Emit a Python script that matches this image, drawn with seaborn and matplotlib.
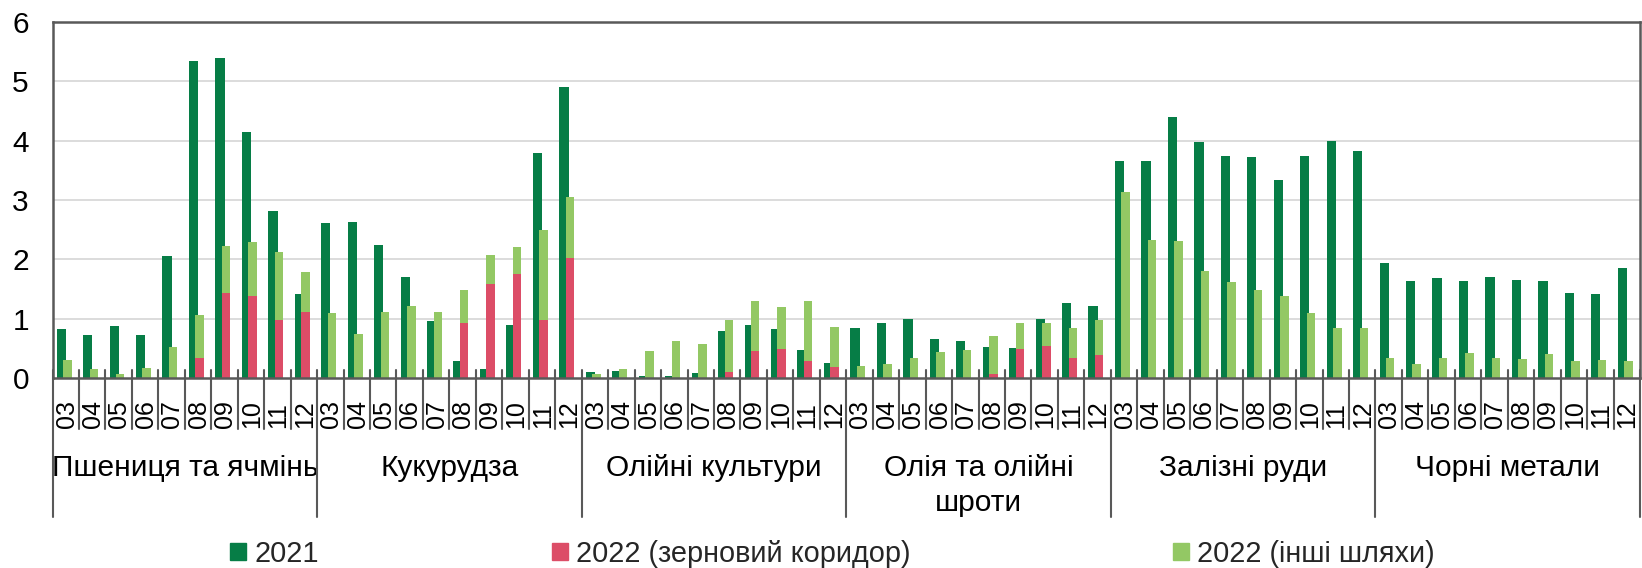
import numpy as np
import pandas as pd
import matplotlib
matplotlib.use("Agg")
import matplotlib.pyplot as plt
from matplotlib.patches import Patch
import seaborn as sns

# ---------------- data ----------------
months = ["03", "04", "05", "06", "07", "08", "09", "10", "11", "12"]
groups = ["Пшениця та ячмінь", "Кукурудза", "Олійні культури",
          "Олія та олійні\nшроти", "Залізні руди", "Чорні метали"]
series_names = ["2021", "2022 (зерновий коридор)", "2022 (інші шляхи)"]

v2021 = [0.82, 0.73, 0.88, 0.72, 2.06, 5.35, 5.39, 4.15, 2.81, 1.42,
         2.62, 2.63, 2.25, 1.70, 0.96, 0.29, 0.15, 0.89, 3.79, 4.90,
         0.10, 0.11, 0.03, 0.04, 0.08, 0.79, 0.90, 0.82, 0.48, 0.25,
         0.84, 0.93, 1.00, 0.65, 0.62, 0.52, 0.50, 0.99, 1.26, 1.22,
         3.66, 3.65, 4.40, 3.97, 3.75, 3.72, 3.33, 3.74, 3.99, 3.83,
         1.93, 1.63, 1.69, 1.63, 1.70, 1.65, 1.63, 1.44, 1.42, 1.85]

v2022_corridor = [0, 0, 0, 0, 0, 0.34, 1.44, 1.39, 0.97, 1.11,
                  0, 0, 0, 0, 0, 0.92, 1.58, 1.76, 0.97, 2.03,
                  0, 0, 0, 0, 0, 0.10, 0.46, 0.49, 0.29, 0.18,
                  0, 0, 0, 0, 0, 0.07, 0.49, 0.54, 0.34, 0.39,
                  0, 0, 0, 0, 0, 0, 0, 0, 0, 0,
                  0, 0, 0, 0, 0, 0, 0, 0, 0, 0]

v2022_other = [0.30, 0.15, 0.06, 0.17, 0.52, 0.72, 0.78, 0.90, 1.15, 0.68,
               1.10, 0.75, 1.12, 1.21, 1.12, 0.56, 0.50, 0.44, 1.53, 1.02,
               0.06, 0.16, 0.45, 0.63, 0.58, 0.87, 0.83, 0.70, 1.01, 0.68,
               0.21, 0.24, 0.33, 0.43, 0.48, 0.64, 0.43, 0.39, 0.51, 0.58,
               3.13, 2.33, 2.31, 1.81, 1.61, 1.48, 1.38, 1.10, 0.85, 0.84,
               0.33, 0.24, 0.34, 0.42, 0.33, 0.32, 0.40, 0.29, 0.31, 0.29]

c2021 = "#067D46"
c_corr = "#DC4D67"
c_other = "#93C864"
spine_c = "#595959"
grid_c = "#D9D9D9"

# ---------------- style ----------------
sns.set_style("white")
plt.rcParams["font.family"] = ["Liberation Sans", "DejaVu Sans"]

W, H = 1642, 568
fig = plt.figure(figsize=(W / 100, H / 100), dpi=100)
ax_l, ax_r, ax_t, ax_b = 52.5, 1640.0, 22.0, 378.0
ax = fig.add_axes([ax_l / W, 1 - ax_b / H, (ax_r - ax_l) / W, (ax_b - ax_t) / H])

n_cat = len(groups) * len(months)
idx = np.arange(n_cat)
df = pd.DataFrame({
    "i": idx,
    "v2021": v2021,
    "corr": v2022_corridor,
    "other": v2022_other,
})
df["total22"] = df["corr"] + df["other"]
df["x21"] = df["i"] - 0.17
df["x22"] = df["i"] + 0.06

sns.barplot(data=df, x="x21", y="v2021", native_scale=True, orient="x", width=0.35,
            color=c2021, saturation=1, errorbar=None, linewidth=0, ax=ax)
sns.barplot(data=df, x="x22", y="total22", native_scale=True, orient="x", width=0.32,
            color=c_other, saturation=1, errorbar=None, linewidth=0, ax=ax)
sns.barplot(data=df, x="x22", y="corr", native_scale=True, orient="x", width=0.32,
            color=c_corr, saturation=1, errorbar=None, linewidth=0, ax=ax)

ax.set_xlim(-0.5, n_cat - 0.5)
ax.set_ylim(0, 6)
ax.set_yticks(range(0, 7))
ax.set_yticklabels([str(v) for v in range(0, 7)], fontsize=21.5)
ax.set_xticks([])
ax.set_xlabel("")
ax.set_ylabel("")
ax.tick_params(axis="y", direction="in", length=6, width=1.5, color=spine_c, pad=17, labelcolor="black")
for yv in range(1, 6):
    ax.axhline(yv, color=grid_c, lw=1.3, zorder=0)
for s in ax.spines.values():
    s.set_visible(True)
    s.set_color(spine_c)
    s.set_linewidth(1.8)

axh = ax_b - ax_t
trans = ax.get_xaxis_transform()
# category boundary ticks
for k in range(n_cat + 1):
    xb = k - 0.5
    ax.plot([xb, xb], [0, 8 / axh], transform=trans, color=spine_c, lw=1.5, clip_on=False, zorder=5)
    low = -139 / axh if k % len(months) == 0 else -51 / axh
    ax.plot([xb, xb], [0, low], transform=trans, color=spine_c, lw=1.5, clip_on=False, zorder=5)

# month labels
for k in range(n_cat):
    ax.text(k + 0.03, -50 / axh, months[k % len(months)], rotation=90, ha="center", va="bottom",
            transform=trans, fontsize=18, color="black")

# group labels
for g, name in enumerate(groups):
    xc = g * len(months) + (len(months) - 1) / 2
    ax.text(xc, -76 / axh, name, ha="center", va="top", transform=trans,
            fontsize=21.5, color="black", linespacing=1.33, multialignment="center")

# legend: three entries at the reference positions
colors = [c2021, c_corr, c_other]
leg_x = [230, 552, 1173]
for name, col, lx in zip(series_names, colors, leg_x):
    fig.legend([Patch(color=col)], [name], loc="center left",
               bbox_to_anchor=(lx / W, 1 - 554 / H),
               frameon=False, fontsize=20.8, handlelength=0.54, handleheight=0.54,
               handletextpad=0.3, borderpad=0, borderaxespad=0)

fig.savefig("out.png", dpi=100)
